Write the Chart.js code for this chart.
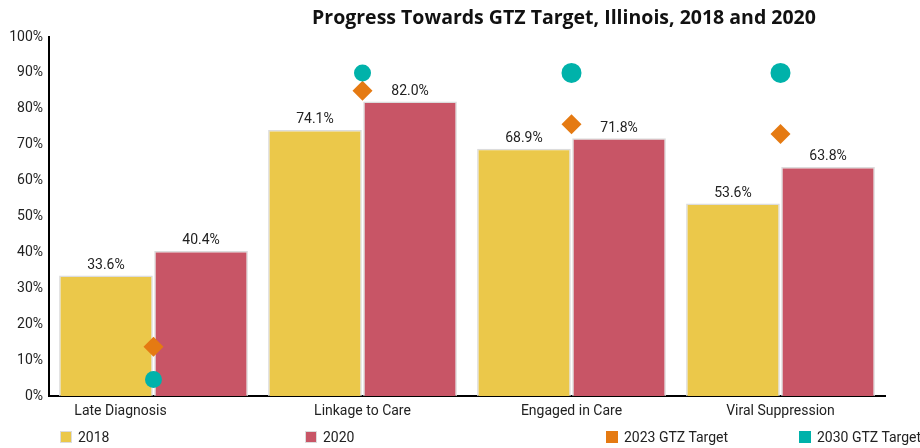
<!DOCTYPE html>
<html>
<head>
<meta charset="utf-8">
<script src="https://cdn.jsdelivr.net/npm/chart.js@4/dist/chart.umd.min.js"></script>
<style>
    body { margin: 0; background: #fff; }
    #wrap { position: relative; width: 920px; height: 448px; }
    #titulo { position: absolute; left: 164px; width: 800px; top: 3px; text-align: center;
        font: 700 19.5px "Open Sans", sans-serif; color: #111; }
    .ley { position: absolute; top: 429px; font: 14px Roboto, sans-serif; color: #222; white-space: nowrap; }
    .ley span { display: inline-block; width: 12px; height: 12px; margin-right: 6px; vertical-align: -1px; box-sizing: border-box; }
</style>
</head>
<body>
<div id="wrap">
    <canvas id="gtzChart" width="920" height="448"></canvas>
    <div id="titulo">Progress Towards GTZ Target, Illinois, 2018 and 2020</div>
</div>
<script>
const categorias = ['Late Diagnosis', 'Linkage to Care', 'Engaged in Care', 'Viral Suppression'];
const valores2018 = [33.6, 74.1, 68.9, 53.6];
const valores2020 = [40.4, 82.0, 71.8, 63.8];
const meta2023 = [13.7, 85, 75.7, 73];
const meta2030 = [4.6, 90, 90, 90];
const ticksY = [0, 10, 20, 30, 40, 50, 60, 70, 80, 90, 100];

const amarillo = '#EBC84A';
const rojo = '#C85566';
const naranja = '#E57A12';
const verde = '#00B2AA';

// etiquetas de porcentaje encima de las barras
const etiquetasBarras = {
    id: 'etiquetasBarras',
    afterDatasetsDraw(chart) {
        const ctx = chart.ctx;
        ctx.save();
        ctx.font = '14px Roboto, sans-serif';
        ctx.fillStyle = '#222';
        ctx.textAlign = 'center';
        ctx.textBaseline = 'bottom';
        chart.data.datasets.forEach((ds, i) => {
            if (ds.type !== 'bar') return;
            chart.getDatasetMeta(i).data.forEach((bar, j) => {
                ctx.fillText(ds.data[j].toFixed(1) + '%', bar.x, bar.y - 3);
            });
        });
        ctx.restore();
    }
};

const ctx = document.getElementById('gtzChart').getContext('2d');
const chart = new Chart(ctx, {
    data: {
        labels: categorias,
        datasets: [{
            type: 'line',
            label: '2030 GTZ Target',
            data: meta2030,
            showLine: false,
            pointStyle: 'circle',
            pointRadius: [8.5, 8.5, 10, 10],
            backgroundColor: verde,
            borderColor: verde,
            borderWidth: 0,
            order: 1
        }, {
            type: 'line',
            label: '2023 GTZ Target',
            data: meta2023,
            showLine: false,
            pointStyle: 'rectRot',
            pointRadius: 10,
            backgroundColor: naranja,
            borderColor: naranja,
            borderWidth: 0,
            order: 1
        }, {
            type: 'bar',
            label: '2018',
            data: valores2018,
            backgroundColor: amarillo,
            borderColor: '#dcdcdc',
            borderWidth: 1.5,
            categoryPercentage: 0.91,
            barPercentage: 0.985,
            order: 2
        }, {
            type: 'bar',
            label: '2020',
            data: valores2020,
            backgroundColor: rojo,
            borderColor: '#dcdcdc',
            borderWidth: 1.5,
            categoryPercentage: 0.91,
            barPercentage: 0.985,
            order: 2
        }]
    },
    options: {
        responsive: false,
        animation: false,
        layout: { padding: { top: 37, right: 35, bottom: 28, left: 0 } },
        plugins: {
            legend: { display: false },
            tooltip: { enabled: false }
        },
        scales: {
            x: {
                grid: { display: false, drawTicks: false },
                border: { display: true, color: '#000', width: 2 },
                ticks: {
                    padding: 7,
                    color: '#222',
                    font: { family: 'Roboto', size: 14 },
                    maxRotation: 0,
                    // la primera etiqueta va corrida a la izquierda en el original
                    callback: function(v, i) {
                        const t = categorias[i];
                        return i === 0 ? t + ' '.repeat(19) : t;
                    }
                },
                afterFit: function(axis) { axis.height = 24; }
            },
            y: {
                min: 0,
                max: 100,
                grid: { display: false, drawTicks: false },
                border: { display: true, color: '#000', width: 2 },
                afterBuildTicks: function(axis) {
                    axis.ticks = ticksY.map(v => ({ value: v }));
                },
                ticks: {
                    padding: 6,
                    color: '#222',
                    font: { family: 'Roboto', size: 14 },
                    callback: v => v + '%'
                },
                afterFit: function(axis) { axis.width = 49; }
            }
        }
    },
    plugins: [etiquetasBarras]
});

// leyenda en html, repartida como en el original
const leyenda = [
    { texto: '2018', color: amarillo, x: 60, borde: '#dcdcdc' },
    { texto: '2020', color: rojo, x: 305, borde: '#dcdcdc' },
    { texto: '2023 GTZ Target', color: naranja, x: 606, borde: naranja },
    { texto: '2030 GTZ Target', color: verde, x: 799, borde: verde }
];
leyenda.forEach(function(item) {
    const d = document.createElement('div');
    d.className = 'ley';
    d.style.left = item.x + 'px';
    const s = document.createElement('span');
    s.style.background = item.color;
    s.style.border = '1px solid ' + item.borde;
    d.appendChild(s);
    d.appendChild(document.createTextNode(item.texto));
    document.getElementById('wrap').appendChild(d);
});
</script>
</body>
</html>
